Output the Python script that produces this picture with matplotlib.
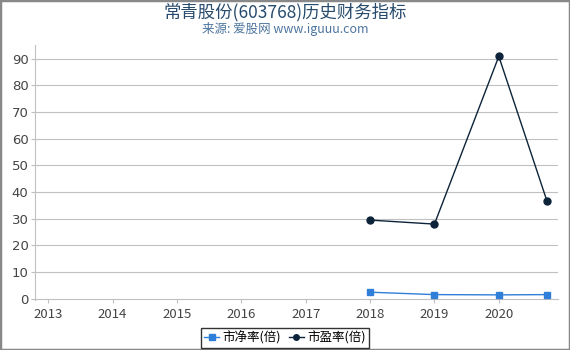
import matplotlib
matplotlib.use('Agg')
import matplotlib.pyplot as plt
from matplotlib.patches import Rectangle

plt.rcParams['font.family'] = ['Noto Sans CJK SC', 'DejaVu Sans']

# 数据
years = [2013, 2014, 2015, 2016, 2017, 2018, 2019, 2020]
x_pts = [2018, 2019, 2020, 2020.75]
pb = [2.5, 1.6, 1.5, 1.6]
pe = [29.5, 28.0, 90.8, 36.5]
yticks = [0, 10, 20, 30, 40, 50, 60, 70, 80, 90]

fig = plt.figure(figsize=(5.7, 3.5), dpi=100)
ax = fig.add_axes([0.062, 0.143, 0.917, 0.728])

# 网格线
for v in yticks[1:]:
    ax.axhline(v, color='#C0C0C0', lw=0.8, zorder=0)

ax.plot(x_pts, pb, color='#2f7ed8', marker='s', markersize=5, lw=1, label='市净率(倍)', zorder=3)
ax.plot(x_pts, pe, color='#0d233a', marker='o', markersize=5, lw=1, label='市盈率(倍)', zorder=3)

ax.set_xlim(2012.8, 2020.92)
ax.set_ylim(-0.4, 95)
ax.set_xticks(years)
ax.set_xticklabels([str(y) for y in years], family='DejaVu Sans')
ax.set_yticks(yticks)
ax.set_yticklabels([str(v) for v in yticks], family='DejaVu Sans')
ax.tick_params(axis='both', colors='#C0C0C0', labelcolor='#444444', labelsize=9.5, length=3, width=0.8)
ax.tick_params(axis='y', pad=2)

for s in ['top', 'right']:
    ax.spines[s].set_visible(False)
ax.spines['left'].set_color('#C0C0C0')
ax.spines['bottom'].set_color('#C0C0C0')
ax.spines['bottom'].set_position(('data', 0))

fig.text(0.5, 0.965, '常青股份(603768)历史财务指标', ha='center', va='center', fontsize=12.5, color='#274b6d')
fig.text(0.5, 0.918, '来源: 爱股网 www.iguuu.com', ha='center', va='center', fontsize=9, color='#4d759e')

leg = fig.legend(loc='lower center', bbox_to_anchor=(0.5, -0.012), ncol=2, fontsize=9, frameon=True,
                 fancybox=False, edgecolor='black', handlelength=1.2, columnspacing=0.6,
                 handletextpad=0.3, borderpad=0.25, markerscale=0.8)
leg.get_frame().set_linewidth(1)

# 外边框
fig.patches.append(Rectangle((0, 0), 1, 1, transform=fig.transFigure, fill=False,
                             edgecolor='#888888', lw=2.5))

fig.savefig('out.png', dpi=100)
